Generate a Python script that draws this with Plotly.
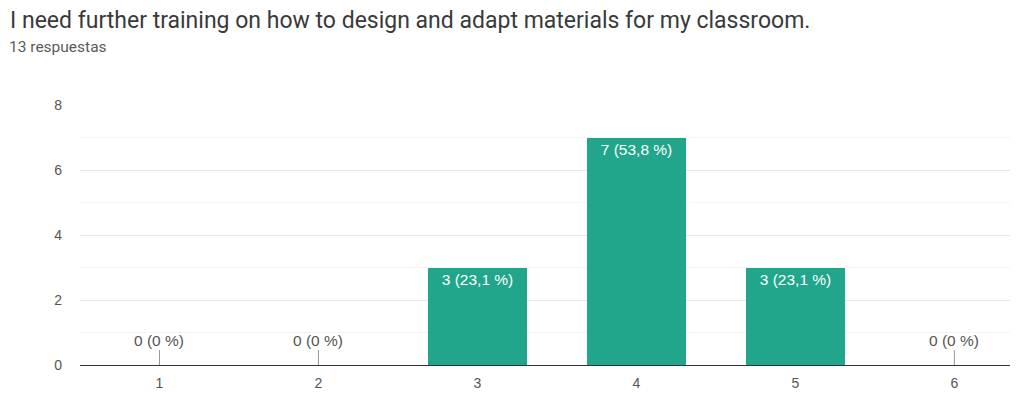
import plotly.graph_objects as go

categories = [1, 2, 3, 4, 5, 6]
counts = [0, 0, 3, 7, 3, 0]
pct_labels = ["0 %", "0 %", "23,1 %", "53,8 %", "23,1 %", "0 %"]
y_ticks = [0, 2, 4, 6, 8]

title = "I need further training on how to design and adapt materials for my classroom."
subtitle = "13 respuestas"

labels = [f"{c} ({p})" for c, p in zip(counts, pct_labels)]
bar_text = [l if c > 0 else "" for l, c in zip(labels, counts)]

W, H = 1020, 394
ML, MR, MT, MB = 80, 10, 105, 29
plot_w = W - ML - MR
plot_h = H - MT - MB

fig = go.Figure()
fig.add_trace(go.Bar(
    x=categories, y=counts, width=0.62,
    marker=dict(color="#22a68b", line=dict(width=0)),
    text=bar_text, textposition="inside", insidetextanchor="end",
    textangle=0,
    textfont=dict(color="white", size=15.5, family="Arial, Liberation Sans"),
    hoverinfo="skip",
))

annotations = []
for x, c, l in zip(categories, counts, labels):
    if c == 0:
        annotations.append(dict(
            x=x, y=0, xref="x", yref="y", text=l, showarrow=True,
            arrowhead=0, arrowwidth=1, arrowcolor="#999999",
            ax=0, ay=-25, standoff=0,
            font=dict(color="#555555", size=15.5, family="Arial, Liberation Sans"),
        ))

annotations.append(dict(
    x=(8 - ML) / plot_w, y=1 + (MT - 20) / plot_h,
    xref="paper", yref="paper", xanchor="left", yanchor="middle",
    text=title, showarrow=False,
    font=dict(size=23, color="#3a3a3a", family="Roboto, Arial"),
))
annotations.append(dict(
    x=(7 - ML) / plot_w, y=1 + (MT - 47) / plot_h,
    xref="paper", yref="paper", xanchor="left", yanchor="middle",
    text=subtitle, showarrow=False,
    font=dict(size=15.5, color="#5a5a5a", family="Roboto, Arial"),
))

fig.update_layout(
    width=W, height=H,
    margin=dict(l=ML, r=MR, t=MT, b=MB, autoexpand=False),
    paper_bgcolor="white", plot_bgcolor="white",
    showlegend=False, bargap=0,
    annotations=annotations,
)

fig.update_xaxes(
    range=[0.5, 6.35], tickvals=categories, ticktext=[str(c) for c in categories],
    showgrid=False, zeroline=False, showline=False, automargin=False,
    tickfont=dict(size=14, color="#555555", family="Arial, Liberation Sans"),
    ticks="", ticklabelstandoff=8,
)
fig.update_yaxes(
    range=[0, 8], tickvals=y_ticks, automargin=False,
    showgrid=True, gridcolor="#e8e8e8", gridwidth=1,
    minor=dict(dtick=1, showgrid=True, gridcolor="#f4f4f4", gridwidth=1),
    zeroline=True, zerolinecolor="#333333", zerolinewidth=1,
    tickfont=dict(size=14, color="#555555", family="Arial, Liberation Sans"),
    ticks="", ticklabelstandoff=17, showline=False,
)

fig.write_html("out.html")
